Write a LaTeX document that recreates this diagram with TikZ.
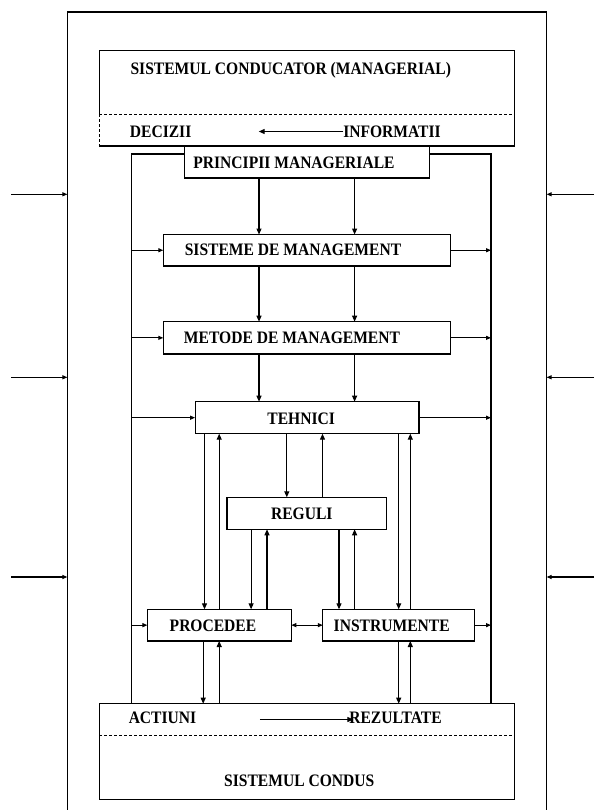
\documentclass[tikz,border=0pt]{standalone}
\usepackage{fontspec}
\setmainfont[FakeStretch=0.89]{Liberation Serif}
\usetikzlibrary{arrows.meta}
\begin{document}
\begin{tikzpicture}[x=1pt,y=-1pt,
  line width=1.1pt,
  box/.style={draw, line width=1.1pt, inner sep=0pt, outer sep=0pt},
  lbl/.style={font=\bfseries\fontsize{17.5}{20}\selectfont, inner sep=0pt, outer sep=0pt, text height=11.6pt, text depth=0pt},
  arr/.style={-{Triangle[length=6pt,width=5pt]}},
  sarr/.style={-{Triangle[length=5pt,width=4pt]}},
  darr/.style={{Triangle[length=5pt,width=4pt]}-{Triangle[length=5pt,width=4pt]}},
  dsh/.style={dash pattern=on 3pt off 2pt}]

\useasboundingbox (0,0) rectangle (594,810);

% outer frame
\coordinate (fbl) at (67.4,812);
\coordinate (ftl) at (67.4,12);
\coordinate (ftr) at (546.6,12);
\coordinate (fbr) at (546.6,812);
\draw (fbl) -- (ftl) -- (ftr) -- (fbr);

% boxes
\node[box, minimum width=415.1pt, minimum height=95.5pt] (cond) at (306.85,98.25) {};
\node[box, fill=white, minimum width=244.7pt, minimum height=32pt] (princ) at (306.85,162) {};
\node[box, minimum width=287.5pt, minimum height=31.5pt] (sist) at (307.05,250.25) {};
\node[box, minimum width=287.5pt, minimum height=32.3pt] (met) at (307.05,337.85) {};
\node[box, minimum width=223.9pt, minimum height=32pt] (tehn) at (307.05,417.7) {};
\node[box, minimum width=159.8pt, minimum height=32pt] (reg) at (306.9,513.3) {};
\node[box, minimum width=143.9pt, minimum height=31.7pt] (proc) at (219.35,625.15) {};
\node[box, minimum width=151.9pt, minimum height=31.7pt] (instr) at (398.75,625.15) {};
\node[box, minimum width=415.1pt, minimum height=95.6pt] (condus) at (306.85,751.5) {};

% dashed separators
\coordinate (yd1) at (0,114.5);
\coordinate (yd2) at (0,735.7);
\draw[dsh] (cond.west |- yd1) -- (cond.east |- yd1);
\draw[white, line width=1.8pt] (cond.west |- yd1) -- (cond.south west);
\draw[dsh] (cond.west |- yd1) -- (cond.south west);
\draw[dsh] (condus.west |- yd2) -- (condus.east |- yd2);

% labels
\node[lbl] (tcond) at (290.8,68.5) {SISTEMUL CONDUCATOR (MANAGERIAL)};
\node[lbl] (dec) at (160.6,131.5) {DECIZII};
\node[lbl] (inf) at (392,131.5) {INFORMATII};
\node[lbl] (tprinc) at (294,162.8) {PRINCIPII MANAGERIALE};
\node[lbl] (tsist) at (293,250) {SISTEME DE MANAGEMENT};
\node[lbl] (tmet) at (292,337.7) {METODE DE MANAGEMENT};
\node[lbl] (ttehn) at (301.2,418.3) {TEHNICI};
\node[lbl] (treg) at (301.8,514) {REGULI};
\node[lbl] (tproc) at (213,625.7) {PROCEDEE};
\node[lbl] (tinstr) at (391.7,625.7) {INSTRUMENTE};
\node[lbl] (act) at (162.5,717.7) {ACTIUNI};
\node[lbl] (rez) at (395.5,717.7) {REZULTATE};
\node[lbl] (tcondus) at (299.3,780.7) {SISTEMUL CONDUS};

% internal arrows in top and bottom boxes
\coordinate (dtip) at (258.7,131.5);
\draw[arr] (inf.west) -- (dtip);
\coordinate (atail) at (259.9,719.5);
\draw[arr] (atail) -- ([xshift=4pt,yshift=-1.8pt]rez.west);

% feedback loop lines
\coordinate (xl) at (131.5,0);
\coordinate (xr) at (491,0);
\coordinate (yt) at (0,154);
\draw (princ.west |- yt) -- (xl |- yt) -- (xl |- condus.north);
\draw (princ.east |- yt) -- (xr |- yt) -- (xr |- condus.north);

% side arrows
\draw[sarr] (xl |- sist.west) -- (sist.west);
\draw[sarr] (sist.east) -- (xr |- sist.east);
\draw[sarr] (xl |- met.west) -- (met.west);
\draw[sarr] (met.east) -- (xr |- met.east);
\draw[sarr] (xl |- tehn.west) -- (tehn.west);
\draw[sarr] (tehn.east) -- (xr |- tehn.east);
\draw[sarr] (xl |- proc.west) -- (proc.west);
\draw[sarr] (instr.east) -- (xr |- instr.east);
\draw[darr] (proc.east) -- (instr.west);

% vertical chain
\coordinate (xa) at (259,0);
\coordinate (xb) at (354.6,0);
\draw[arr] (princ.south -| xa) -- (sist.north -| xa);
\draw[arr] (princ.south -| xb) -- (sist.north -| xb);
\draw[arr] (sist.south -| xa) -- (met.north -| xa);
\draw[arr] (sist.south -| xb) -- (met.north -| xb);
\draw[arr] (met.south -| xa) -- (tehn.north -| xa);
\draw[arr] (met.south -| xb) -- (tehn.north -| xb);

% tehnici <-> procedee / reguli / instrumente
\coordinate (x1) at (204.5,0);
\coordinate (x2) at (219.2,0);
\coordinate (x3) at (286.8,0);
\coordinate (x4) at (322.5,0);
\coordinate (x5) at (398.7,0);
\coordinate (x6) at (410.3,0);
\coordinate (x7) at (251.1,0);
\coordinate (x8) at (267,0);
\coordinate (x9) at (339,0);
\coordinate (x10) at (354.6,0);
\coordinate (x11) at (203.2,0);
\draw[arr] (tehn.south -| x1) -- (proc.north -| x1);
\draw[arr] (proc.north -| x2) -- (tehn.south -| x2);
\draw[arr] (tehn.south -| x3) -- (reg.north -| x3);
\draw[arr] (reg.north -| x4) -- (tehn.south -| x4);
\draw[arr] (tehn.south -| x5) -- (instr.north -| x5);
\draw[arr] (instr.north -| x6) -- (tehn.south -| x6);
\draw[arr] (reg.south -| x7) -- (proc.north -| x7);
\draw[arr] (proc.north -| x8) -- (reg.south -| x8);
\draw[arr] (reg.south -| x9) -- (instr.north -| x9);
\draw[arr] (instr.north -| x10) -- (reg.south -| x10);

% to / from sistemul condus
\draw[arr] (proc.south -| x11) -- (condus.north -| x11);
\draw[arr] (condus.north -| x2) -- (proc.south -| x2);
\draw[arr] (instr.south -| x5) -- (condus.north -| x5);
\draw[arr] (condus.north -| x6) -- (instr.south -| x6);

% outer inputs
\coordinate (lo1) at (11.4,194.3);
\coordinate (lo2) at (11.4,377.3);
\coordinate (lo3) at (11.4,577);
\coordinate (ro1) at (594,194.3);
\coordinate (ro2) at (594,377.3);
\coordinate (ro3) at (594,577);
\draw[sarr] (lo1) -- (ftl |- lo1);
\draw[sarr] (lo2) -- (ftl |- lo2);
\draw[sarr] (lo3) -- (ftl |- lo3);
\draw[sarr] (ro1) -- (ftr |- ro1);
\draw[sarr] (ro2) -- (ftr |- ro2);
\draw[sarr] (ro3) -- (ftr |- ro3);
\end{tikzpicture}
\end{document}
